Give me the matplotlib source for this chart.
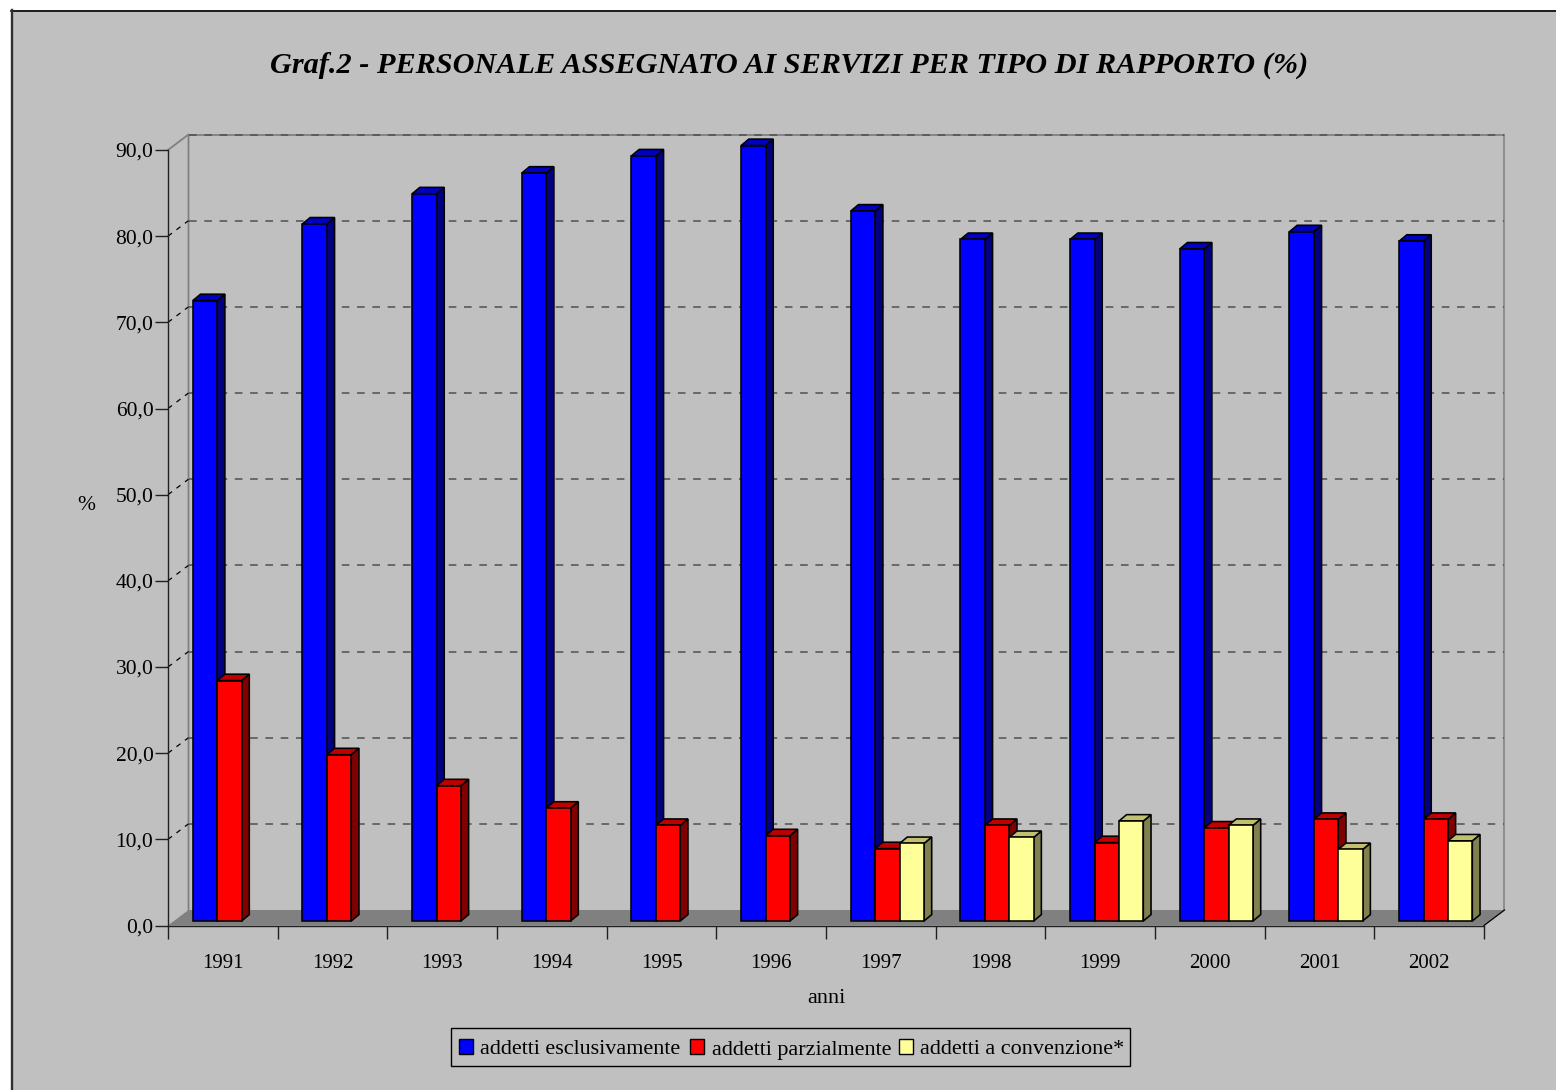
import matplotlib
matplotlib.use("Agg")
import matplotlib.pyplot as plt
from matplotlib.patches import Polygon, Rectangle
from matplotlib.lines import Line2D
from matplotlib.transforms import Affine2D
from matplotlib.ticker import FixedLocator

plt.rcParams['font.family'] = ['Liberation Serif', 'DejaVu Serif']

years = ['1991', '1992', '1993', '1994', '1995', '1996', '1997', '1998', '1999', '2000', '2001', '2002']
esclusivi = [72.0, 80.9, 84.4, 86.8, 88.8, 90.0, 82.4, 79.1, 79.1, 78.0, 80.0, 78.9]
parziali = [27.9, 19.3, 15.7, 13.1, 11.1, 9.9, 8.4, 11.1, 9.1, 10.8, 11.8, 11.8]
convenzione = [None, None, None, None, None, None, 9.0, 9.7, 11.6, 11.1, 8.3, 9.3]
labels = ['addetti esclusivamente', 'addetti parzialmente', 'addetti a convenzione*']
title = 'Graf.2 - PERSONALE ASSEGNATO AI SERVIZI PER TIPO DI RAPPORTO (%)'
yticks = [0, 10, 20, 30, 40, 50, 60, 70, 80, 90]
front_colors = ['#0000ff', '#ff0000', '#ffff99']
side_colors = ['#000080', '#800000', '#808050']
top_colors = ['#0000c0', '#c00000', '#c0c070']

W, H = 1556, 1090
BG = '#c0c0c0'
fig = plt.figure(figsize=(W / 100, H / 100), dpi=100, facecolor='white')
L, R, T, B = 168, 1484, 150, 925.5
ax = fig.add_axes([L / W, 1 - B / H, (R - L) / W, (B - T) / H])
ax.set_xlim(0, 12)
ax.set_ylim(0, 90)
ax.patch.set_visible(False)

# panel of the picture: only its top and left edges are outlined
panel = Rectangle((11 / W, 0), (W - 11) / W, 1 - 10 / H, transform=fig.transFigure,
                  fc=BG, ec='none', zorder=-10)
fig.add_artist(panel)
fig.add_artist(Line2D([11 / W, 1], [1 - 10.5 / H, 1 - 10.5 / H], transform=fig.transFigure,
                      color='black', lw=1.2, zorder=-9))
fig.add_artist(Line2D([12 / W, 12 / W], [0, 1 - 10 / H], transform=fig.transFigure,
                      color='#303030', lw=1.7, zorder=-9))

px = 12 / (R - L)   # data units per pixel, x
py = 90 / (B - T)   # data units per pixel, y
DX, DY = 20.5 * px, 15.5 * py   # depth of the chart box
bx, by = 7.7 * px, 6.4 * py     # depth of a bar
shifty = 4.5 * py
slot = 24.4 * px
start = 24.8 * px

# back wall and floor
ax.add_patch(Polygon([(0, 0), (12, 0), (12 + DX, DY), (DX, DY)], closed=True,
                     fc='#808080', ec='none', clip_on=False, zorder=1))
ax.plot([0, DX, DX], [90, 90 + DY, DY], color='#808080', lw=1.3, clip_on=False, zorder=1.5)
ax.plot([12 + DX, 12 + DX], [DY, 90 + DY], color='#808080', lw=1.1, clip_on=False, zorder=1.5)
ax.plot([DX, 12 + DX], [90 + DY, 90 + DY], color='#808080', lw=1.3, clip_on=False, zorder=1.55)
for v in yticks[1:]:
    ax.plot([DX, 12 + DX], [v + DY, v + DY], color='#505050', lw=1.1,
            ls=(0, (5, 5)), clip_on=False, zorder=1.6)
    if v < 90:
        ax.plot([0, DX], [v, v + DY], color='black', lw=0.9,
                ls=(0, (4, 4.5)), clip_on=False, zorder=1.6)
ax.plot([12, 12 + DX], [0, DY], color='black', lw=0.9, clip_on=False, zorder=1.6)

# bars
series = [esclusivi, parziali, convenzione]
for s, vals in enumerate(series):
    for i, v in enumerate(vals):
        if v is None:
            continue
        x0 = i + start + s * slot
        x1 = x0 + slot
        z = 3 + s + i * 0.01
        ax.add_patch(Polygon([(x1, shifty), (x1 + bx, shifty + by), (x1 + bx, v + shifty + by), (x1, v + shifty)],
                             closed=True, fc=side_colors[s], ec='black', lw=1.15, clip_on=False, zorder=z,
                             joinstyle='miter'))
        ax.add_patch(Polygon([(x0, v + shifty), (x1, v + shifty), (x1 + bx, v + shifty + by), (x0 + bx, v + shifty + by)],
                             closed=True, fc=top_colors[s], ec='black', lw=1.15, clip_on=False, zorder=z,
                             joinstyle='miter'))
        ax.add_patch(Rectangle((x0, shifty), slot, v, fc=front_colors[s], ec='black', lw=1.15,
                               clip_on=False, zorder=z + 0.001, joinstyle='miter'))

# axes
for name in ('top', 'right'):
    ax.spines[name].set_visible(False)
for name in ('left', 'bottom'):
    ax.spines[name].set_linewidth(1.0)
    ax.spines[name].set_color('#202020')
    ax.spines[name].set_zorder(2)
ax.set_yticks(yticks)
ax.set_yticklabels([f'{v:.1f}'.replace('.', ',') for v in yticks], fontsize=15.5, color='black')
ax.tick_params(axis='y', length=9.5, width=1.0, color='#202020', pad=1)
ax.xaxis.set_major_locator(FixedLocator(list(range(13))))
ax.set_xticklabels([])
ax.tick_params(axis='x', length=9.5, width=1.0, color='#202020')
for i, y in enumerate(years):
    ax.text(i + 0.5, 0, y, transform=ax.transData + Affine2D().translate(0, -42),
            ha='center', va='baseline', fontsize=15)

fig.text(789.5 / W, 1 - 73 / H, title, ha='center', va='baseline', fontsize=21.8,
         fontweight='bold', fontstyle='italic')
fig.text(826.5 / W, 1 - 1003 / H, 'anni', ha='center', va='baseline', fontsize=16)
fig.text(86 / W, 1 - 506 / H, '%', ha='center', va='center', fontsize=15.5)

# legend
fig.add_artist(Rectangle((451 / W, 1 - 1065.5 / H), 678.5 / W, 38 / H, transform=fig.transFigure,
                         fc=BG, ec='black', lw=1.0))
for lab, fc, sx, tx in zip(labels, front_colors, (459, 690, 899), (480, 711.5, 920)):
    fig.add_artist(Rectangle((sx / W, 1 - 1054 / H), 14 / W, 15 / H, transform=fig.transFigure,
                             fc=fc, ec='black', lw=1.0))
    fig.text(tx / W, 1 - 1054.5 / H, lab, ha='left', va='baseline', fontsize=15.9)

fig.savefig('out.png', dpi=100)
